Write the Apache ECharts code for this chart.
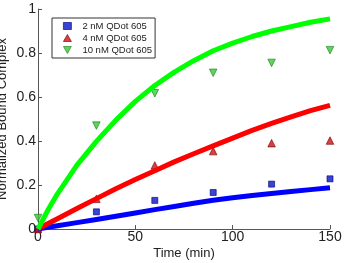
<!DOCTYPE html>
<html><head><meta charset="utf-8">
<script src="https://cdn.jsdelivr.net/npm/echarts@6/dist/echarts.min.js"></script>
<style>html,body{margin:0;padding:0;background:#fff}#c{width:346px;height:263px}</style>
</head><body><div id="c"></div>
<script>
var measTimes = [0, 30, 60, 90, 120, 150];
var meas2nM = [0.0, 0.078, 0.13, 0.166, 0.204, 0.228];
var meas4nM = [0.0, 0.137, 0.289, 0.354, 0.39, 0.402];
var meas10nM = [0.05, 0.47, 0.617, 0.71, 0.755, 0.813];
var fitTimes = [0, 5, 10, 20, 30, 40, 50, 60, 70, 80, 90, 100, 110, 120, 130, 140, 150];
var fit2nM = [0, 0.008, 0.015, 0.029, 0.043, 0.058, 0.073, 0.088, 0.102, 0.117, 0.131, 0.142, 0.152, 0.161, 0.170, 0.179, 0.187];
var fit4nM = [0, 0.024, 0.047, 0.093, 0.138, 0.183, 0.225, 0.265, 0.305, 0.342, 0.378, 0.413, 0.448, 0.48, 0.51, 0.538, 0.562];
var fit10nM = [0, 0.085, 0.16, 0.29, 0.398, 0.495, 0.58, 0.652, 0.713, 0.765, 0.81, 0.845, 0.875, 0.90, 0.92, 0.94, 0.955];
var seriesNames = ['2 nM QDot 605', '4 nM QDot 605', '10 nM QDot 605'];
var xLabels = [0, 50, 100, 150];
var yLabels = [0, 0.2, 0.4, 0.6, 0.8, 1];

function pairs(xs, ys){ return xs.map(function(x,i){ return [x, ys[i]]; }); }
var font = 'Liberation Sans, Arial, sans-serif';
var chart = echarts.init(document.getElementById('c'), null, {renderer:'canvas'});
var lineColors = ['#0000ff', '#ff0000', '#00ff00'];
var markColors = ['#0a14c8', '#cc1111', '#33cc33'];
var markBorders = ['#00007a', '#7a0000', '#1a7a1a'];
var downTri = 'path://M0,0L10,0L5,9Z';
var symbols = ['rect', 'triangle', downTri];
var sizes = [6, 7.5, 7.5];
var fits = [fit2nM, fit4nM, fit10nM];
var meas = [meas2nM, meas4nM, meas10nM];
var series = [];
for (var i = 0; i < 3; i++) {
  series.push({
    name: seriesNames[i], type: 'scatter', data: pairs(measTimes, meas[i]),
    symbol: symbols[i], symbolSize: sizes[i], z: 2,
    itemStyle: {color: markColors[i], borderColor: markBorders[i], borderWidth: 0.8}
  });
}
for (var j = 0; j < 3; j++) {
  series.push({
    name: 'fit' + j, type: 'line', data: pairs(fitTimes, fits[j]), smooth: false,
    showSymbol: false, z: 3, lineStyle: {color: lineColors[j], width: 5, join: 'round'},
    itemStyle: {color: lineColors[j]}
  });
}
chart.setOption({
  animation: false,
  backgroundColor: '#fff',
  grid: {left: 38, right: 16, top: 9, bottom: 34, containLabel: false, outerBoundsMode: 'none'},
  legend: {
    data: seriesNames.map(function(n, i){ return {name: n, icon: symbols[i], itemStyle: {color: markColors[i], borderColor: markBorders[i], borderWidth: 0.8}}; }),
    orient: 'vertical', left: 52, top: 18, itemWidth: 8, itemHeight: 7, itemGap: 2,
    padding: [3, 3, 3, 11], borderColor: '#333', borderWidth: 1, backgroundColor: '#fff',
    textStyle: {fontFamily: font, fontSize: 9.5, color: '#222', padding: [0, 0, 0, 6]}
  },
  xAxis: {
    type: 'value', min: 0, max: 150, interval: 50,
    name: 'Time (min)', nameLocation: 'middle', nameGap: 18, nameMoveOverlap: false,
    nameTextStyle: {fontFamily: font, fontSize: 13, color: '#222'},
    axisLine: {show: true, onZero: false, lineStyle: {color: '#555', width: 1}},
    axisTick: {show: true, inside: true, length: 4, lineStyle: {color: '#555'}},
    axisLabel: {fontFamily: font, fontSize: 14, color: '#222', margin: 1,
      formatter: function(v){ return xLabels.indexOf(v) >= 0 ? String(v) : ''; }},
    splitLine: {show: false}
  },
  yAxis: {
    type: 'value', min: 0, max: 1, interval: 0.2,
    name: 'Normalized Bound Complex', nameLocation: 'middle', nameGap: 29, nameMoveOverlap: false,
    nameTextStyle: {fontFamily: font, fontSize: 13, color: '#222'},
    axisLine: {show: true, lineStyle: {color: '#555', width: 1}},
    axisTick: {show: true, inside: true, length: 4, lineStyle: {color: '#555'}},
    axisLabel: {fontFamily: font, fontSize: 14, color: '#222', margin: 2,
      formatter: function(v){ var r = Math.round(v*10)/10; return yLabels.indexOf(r) >= 0 ? String(r) : ''; }},
    splitLine: {show: false}
  },
  series: series
});
</script></body></html>
